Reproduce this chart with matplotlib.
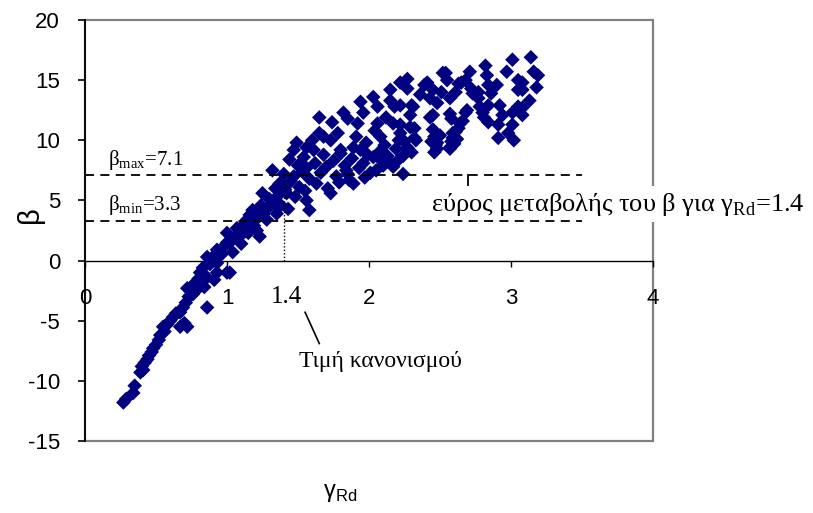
import numpy as np
import matplotlib
matplotlib.use("Agg")
import matplotlib.pyplot as plt
from matplotlib.patches import Rectangle

plt.rcParams["font.family"] = ["Liberation Sans", "DejaVu Sans"]
plt.rcParams["axes.unicode_minus"] = False

# safety factor gamma_Rd vs reliability index beta
gamma_rd = [
    # lower tail
    0.27, 0.29, 0.34, 0.35, 0.39, 0.40, 0.41, 0.42, 0.44, 0.45, 0.47, 0.48,
    0.50, 0.52, 0.53, 0.55, 0.56, 0.58, 0.60, 0.62, 0.64, 0.67, 0.67, 0.70,
    0.72, 0.69, 0.71, 0.72, 0.73, 0.74, 0.76, 0.77, 0.79, 0.80, 0.81, 0.83,
    0.84, 0.86, 0.86, 0.86, 0.88, 0.90, 0.91, 0.93, 0.93, 0.93,
    # around gamma = 1
    0.96, 0.98, 1.00, 1.00, 1.00, 1.02, 1.02, 1.04, 1.05, 1.07, 1.09, 1.09,
    1.10, 1.12, 1.14, 1.15, 1.16, 1.18, 1.19, 1.21, 1.22, 1.23, 1.24, 1.25,
    1.26, 1.28, 1.29, 1.30,
    # 1.3 - 2.0
    1.32, 1.33, 1.34, 1.35, 1.36, 1.37, 1.38, 1.40, 1.41, 1.42, 1.43, 1.44,
    1.45, 1.47, 1.47, 1.48, 1.49, 1.50, 1.51, 1.53, 1.54, 1.55, 1.56, 1.56,
    1.56, 1.58, 1.58, 1.60, 1.61, 1.62, 1.63, 1.65, 1.65, 1.66, 1.68, 1.68,
    1.70, 1.71, 1.73, 1.73, 1.74, 1.75, 1.77, 1.78, 1.79, 1.80, 1.80, 1.82,
    1.83, 1.84, 1.85, 1.85, 1.86, 1.88, 1.89, 1.89, 1.91, 1.92, 1.93, 1.94,
    1.94, 1.96, 1.96, 1.97, 1.98, 1.99,
    # 2.0 - 2.35
    2.01, 2.03, 2.03, 2.04, 2.05, 2.06, 2.06, 2.07, 2.08, 2.08, 2.10, 2.11,
    2.12, 2.13, 2.15, 2.15, 2.16, 2.17, 2.17, 2.18, 2.19, 2.20, 2.21, 2.22,
    2.22, 2.22, 2.22, 2.24, 2.24, 2.25, 2.27, 2.27, 2.27, 2.29, 2.29, 2.30,
    2.30, 2.31, 2.32, 2.32, 2.33,
    # 2.35 - 2.75
    2.36, 2.39, 2.41, 2.43, 2.43, 2.44, 2.45, 2.45, 2.45, 2.46, 2.48, 2.48,
    2.48, 2.50, 2.51, 2.52, 2.54, 2.55, 2.57, 2.57, 2.57, 2.57, 2.58, 2.58,
    2.59, 2.61, 2.61, 2.62, 2.63, 2.64, 2.65, 2.68, 2.68, 2.69, 2.71, 2.72,
    2.73, 2.46, 2.47, 2.59, 2.60, 2.63, 2.66,
    # upper end
    2.77, 2.77, 2.78, 2.80, 2.81, 2.82, 2.83, 2.84, 2.84, 2.84, 2.86, 2.90,
    2.91, 2.91, 2.92, 2.94, 2.97, 2.98, 3.01, 3.01, 3.01, 3.02, 3.05, 3.05,
    3.05, 3.08, 3.08, 3.08, 3.08, 3.13, 3.14, 3.16, 3.18, 3.19,
]
beta = [
    -11.8, -11.5, -11.0, -10.4, -9.3, -8.8, -9.1, -8.5, -8.2, -7.9, -7.6, -7.3,
    -7.0, -6.6, -6.2, -5.5, -5.9, -5.3, -5.0, -4.7, -4.4, -4.3, -5.5, -5.2,
    -5.5, -3.9, -3.5, -2.3, -3.0, -2.5, -2.8, -1.9, -2.4, -1.5, -1.0, -0.6,
    -2.2, -3.9, -1.4, 0.3, -0.3, 0.3, -1.6, -1.0, -0.2, 0.9,
    0.5, 1.2, -1.0, 1.5, 2.3, -1.0, 1.5, 0.7, 1.9, 2.7, 2.0, 2.5,
    1.4, 3.0, 3.4, 2.3, 3.8, 4.2, 2.9, 2.5, 3.6, 2.0, 4.6, 5.6,
    3.9, 3.4, 4.4, 5.1,
    7.5, 4.8, 6.0, 3.9, 5.4, 6.4, 4.6, 7.2, 5.9, 5.6, 4.3, 8.4,
    6.6, 7.0, 9.2, 5.3, 9.8, 7.9, 6.1, 7.4, 8.6, 5.8, 5.0, 7.7,
    9.4, 4.2, 6.8, 10.0, 9.2, 8.1, 6.4, 10.6, 11.9, 7.3, 10.3, 8.8,
    7.8, 6.0, 5.6, 10.0, 11.5, 8.3, 7.0, 10.6, 6.5, 8.9, 9.2, 12.3,
    7.9, 7.5, 11.8, 7.2, 6.7, 8.5, 6.4, 9.4, 10.3, 11.4, 7.7, 9.2,
    13.2, 8.1, 12.3, 6.9, 9.8, 8.8,
    7.3, 8.6, 13.6, 10.8, 7.5, 11.4, 12.8, 9.0, 8.4, 10.3, 7.9, 9.6,
    11.9, 8.7, 13.3, 14.2, 8.0, 7.8, 11.4, 12.8, 9.3, 8.3, 10.0, 10.6,
    14.8, 12.9, 11.3, 7.2, 8.7, 9.9, 9.4, 14.3, 15.1, 11.1, 12.1, 12.9,
    9.0, 12.8, 10.2, 11.0, 10.0,
    13.8, 14.6, 14.8, 13.5, 11.9, 9.9, 10.9, 12.1, 14.2, 9.0, 13.1, 9.3,
    9.8, 10.4, 14.0, 15.6, 15.6, 15.0, 12.2, 13.5, 9.3, 9.4, 9.9, 11.8,
    10.6, 10.7, 14.0, 10.1, 14.7, 11.4, 14.8, 12.3, 15.0, 12.5, 15.7, 14.3,
    13.9, 10.3, 9.6, 10.2, 9.7, 11.0, 11.6,
    13.5, 14.0, 12.8, 12.3, 11.9, 16.2, 15.4, 14.6, 11.5, 12.9, 13.9, 14.6,
    11.3, 10.2, 12.9, 12.1, 15.7, 10.6, 16.7, 11.3, 12.3, 10.0, 15.0, 14.2,
    12.8, 14.8, 14.2, 12.7, 12.1, 13.3, 16.9, 15.7, 14.4, 15.4,
]

beta_max = 7.1
beta_min = 3.3
gamma_code = 1.4

serif = ["Liberation Serif", "DejaVu Serif"]

fig = plt.figure(figsize=(8.13, 5.13), dpi=100)
ax = fig.add_axes([85 / 813, 1 - 441 / 513, 568 / 813, 421 / 513])

ax.scatter(gamma_rd, beta, marker="D", s=55, color="#000080",
           edgecolors="none", zorder=3)

ax.set_xlim(0, 4)
ax.set_ylim(-15, 20)
ax.set_xticks([0, 1, 2, 3, 4])
ax.set_yticks(np.arange(-15, 21, 5))

# grey plot-area frame, x axis through zero
ax.spines["top"].set_visible(False)
ax.spines["right"].set_visible(False)
ax.spines["bottom"].set_position(("data", 0))
ax.spines["bottom"].set_linewidth(1.0)
ax.spines["left"].set_linewidth(1.3)
ax.spines["left"].set_zorder(4)
ax.add_patch(Rectangle((0, 0), 1, 1, transform=ax.transAxes, fill=False,
                       edgecolor="#808080", linewidth=1.6, zorder=1,
                       clip_on=False))

ax.tick_params(axis="y", direction="out", length=5, width=1.2, pad=13,
               labelsize=16)
ax.tick_params(axis="x", direction="out", length=4, width=1.0, pad=16,
               labelsize=16)

# beta range lines
ax.plot([0, 3.5], [beta_max, beta_max], color="black", lw=1.3,
        dashes=(5, 3.5), zorder=6)
ax.plot([0, 3.5], [beta_min, beta_min], color="black", lw=1.3,
        dashes=(5, 3.5), zorder=6)
ax.plot([gamma_code, gamma_code], [0, beta_max], color="black", lw=1.0,
        linestyle=(0, (1, 1.5)), zorder=6)
ax.plot([2.7, 2.7], [beta_min, beta_max], color="black", lw=1.3, zorder=4)

ax.text(0.16, beta_max + 0.3, r"β$_{\mathregular{max}}$=7.1", family=serif,
        fontsize=15, ha="left", va="bottom", zorder=7)
ax.text(0.16, beta_min + 0.3, r"β$_{\mathregular{min}}$=3.3", family=serif,
        fontsize=15, ha="left", va="bottom", zorder=7)
ax.text(2.44, 4.7, r"εύρος μεταβολής του β για γ$_{\mathregular{Rd}}$=1.4",
        family=serif, fontsize=19, ha="left", va="center", zorder=5,
        clip_on=False,
        bbox=dict(facecolor="white", edgecolor="none", pad=3))

ax.text(gamma_code + 0.02, -3.0, "1.4", family=serif, fontsize=18,
        ha="center", va="center")
ax.plot([1.55, 1.65], [-4.3, -6.9], color="black", lw=1.2)
ax.text(1.51, -8.4, "Τιμή κανονισμού", family=serif, fontsize=17,
        ha="left", va="center")

fig.text(30 / 813, 1 - 215 / 513, "β", fontsize=21, rotation=90,
         ha="center", va="center")
fig.text(340 / 813, 1 - 493 / 513, r"γ$_{\mathregular{Rd}}$", fontsize=17,
         ha="center", va="center")

fig.savefig("out.png", dpi=100)
